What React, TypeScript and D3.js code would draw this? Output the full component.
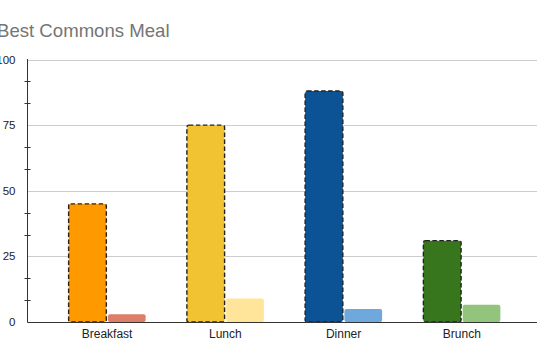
import React from "react";
import * as d3 from "d3";

const categories = ["Breakfast", "Lunch", "Dinner", "Brunch"];
const mainValues = [45, 75, 88, 31];
const secondValues = [3, 9, 5, 6.6];
const mainColors = ["#ff9900", "#f1c232", "#0b5394", "#38761d"];
const secondColors = ["#dd7e6b", "#ffe599", "#6fa8dc", "#93c47d"];
const yTicks = [0, 25, 50, 75, 100];
const minorTicks = d3.range(0, 100, 25 / 3).filter((v, i) => i % 3 !== 0);

export default function App() {
  const W = 537, H = 360;
  const axisX = 27.5;
  const y = d3.scaleLinear().domain([0, 100]).range([322, 59.5]);
  const x = d3.scaleBand().domain(categories).range([48, 521]).paddingInner(0).paddingOuter(0);
  const groupW = 77;
  const sub = d3.scaleBand().domain(["a", "b"]).range([0, groupW]).paddingInner(0.04);
  return (
    <svg width={W} height={H} style={{ position: "absolute", left: 0, top: 0, fontFamily: "Arial, 'Liberation Sans', sans-serif" }}>
      <rect x={0} y={0} width={W} height={H} fill="#fff" />
      <text x={-3} y={37} fontSize={18.6} fill="#757575">Best Commons Meal</text>
      {yTicks.map(t => (
        <g key={t}>
          {t > 0 && <line x1={axisX} x2={W} y1={Math.round(y(t)) + 0.5} y2={Math.round(y(t)) + 0.5} stroke="#cccccc" strokeWidth={1} />}
          <text x={15.5} y={y(t) + 4} fontSize={11.5} fill="#222" textAnchor="end">{t}</text>
        </g>
      ))}
      {minorTicks.map(t => (
        <line key={t} x1={axisX - 3} x2={axisX + 3} y1={Math.round(y(t)) + 0.5} y2={Math.round(y(t)) + 0.5} stroke="#333" strokeWidth={1} />
      ))}
      {categories.map((c, i) => {
        const cx = (x(c) as number) + x.bandwidth() / 2;
        const gx = cx - groupW / 2;
        const mx = gx + (sub("a") as number);
        const sx = gx + (sub("b") as number);
        const bw = sub.bandwidth();
        return (
          <g key={c}>
            <rect x={mx} y={y(mainValues[i])} width={bw} height={y(0) - y(mainValues[i])} fill={mainColors[i]} rx={2}
              stroke="#222" strokeWidth={1.4} strokeDasharray="4.5,2.5" />
            <rect x={sx} y={y(secondValues[i])} width={bw} height={y(0) - y(secondValues[i])} fill={secondColors[i]} rx={2} />
            <text x={cx} y={338} fontSize={12} fill="#222" textAnchor="middle">{c}</text>
          </g>
        );
      })}
      <line x1={axisX} x2={axisX} y1={59} y2={322.5} stroke="#333" strokeWidth={1} />
      <line x1={axisX} x2={W} y1={322.5} y2={322.5} stroke="#333" strokeWidth={1} />
    </svg>
  );
}
